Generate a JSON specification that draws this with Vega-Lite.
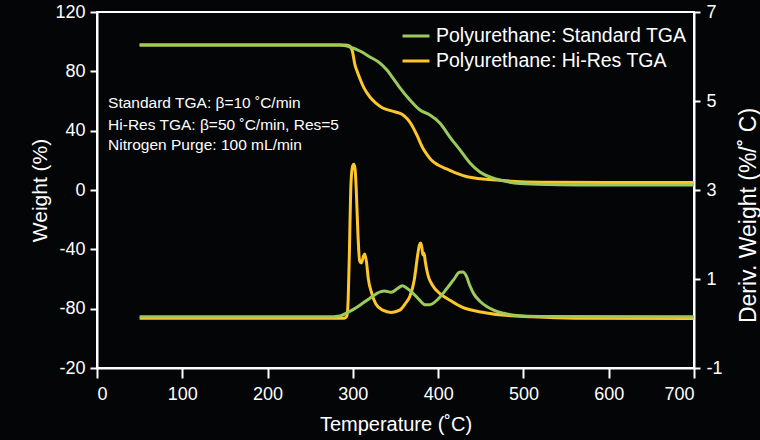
{
  "$schema": "https://vega.github.io/schema/vega-lite/v6.json",
  "width": 597,
  "height": 356,
  "autosize": {"type": "none"},
  "padding": {"left": 97, "top": 12, "right": 66, "bottom": 72},
  "background": "#040507",
  "config": {
    "view": {"stroke": "#ffffff", "strokeWidth": 2},
    "font": "Liberation Sans",
    "axis": {
      "domainColor": "#ffffff", "domainWidth": 2, "tickColor": "#ffffff", "tickWidth": 2,
      "labelColor": "#ffffff", "titleColor": "#ffffff", "grid": false,
      "labelFont": "Liberation Sans", "titleFont": "Liberation Sans",
      "titleFontWeight": "normal", "labelFontSize": 18, "titleFontSize": 20
    },
    "legend": {
      "labelColor": "#ffffff", "labelFont": "Liberation Sans", "labelFontSize": 19.5, "labelLimit": 400,
      "symbolType": "stroke", "symbolStrokeWidth": 3, "symbolSize": 729,
      "padding": 0, "rowPadding": 0, "labelOffset": 5
    }
  },
  "datasets": {
    "weight": [
      {"s": "HiRes", "T": 50, "W": 97.8}, {"s": "HiRes", "T": 200, "W": 97.8}, {"s": "HiRes", "T": 290, "W": 97.7},
      {"s": "HiRes", "T": 296, "W": 97.2}, {"s": "HiRes", "T": 298, "W": 95.7}, {"s": "HiRes", "T": 299.5, "W": 93.5},
      {"s": "HiRes", "T": 301, "W": 89.0}, {"s": "HiRes", "T": 302, "W": 85.6}, {"s": "HiRes", "T": 305, "W": 80.0},
      {"s": "HiRes", "T": 308, "W": 75.5}, {"s": "HiRes", "T": 313, "W": 68.8}, {"s": "HiRes", "T": 320, "W": 62.7},
      {"s": "HiRes", "T": 327, "W": 58.5}, {"s": "HiRes", "T": 335, "W": 55.3}, {"s": "HiRes", "T": 343, "W": 53.7},
      {"s": "HiRes", "T": 350, "W": 52.6}, {"s": "HiRes", "T": 358, "W": 50.9}, {"s": "HiRes", "T": 364, "W": 47.8},
      {"s": "HiRes", "T": 369, "W": 43.8}, {"s": "HiRes", "T": 375, "W": 37.1}, {"s": "HiRes", "T": 382, "W": 28.3},
      {"s": "HiRes", "T": 387, "W": 23.8}, {"s": "HiRes", "T": 392, "W": 20.2}, {"s": "HiRes", "T": 400, "W": 16.8},
      {"s": "HiRes", "T": 410, "W": 14.2}, {"s": "HiRes", "T": 422, "W": 11.2}, {"s": "HiRes", "T": 434, "W": 8.9},
      {"s": "HiRes", "T": 450, "W": 7.6}, {"s": "HiRes", "T": 469, "W": 6.7}, {"s": "HiRes", "T": 496, "W": 5.6},
      {"s": "HiRes", "T": 530, "W": 5.2}, {"s": "HiRes", "T": 600, "W": 5.0}, {"s": "HiRes", "T": 700, "W": 5.0},
      {"s": "Std", "T": 50, "W": 97.8}, {"s": "Std", "T": 200, "W": 97.8}, {"s": "Std", "T": 285, "W": 97.7},
      {"s": "Std", "T": 296.6, "W": 96.4}, {"s": "Std", "T": 308.3, "W": 93.7}, {"s": "Std", "T": 320, "W": 89.7},
      {"s": "Std", "T": 331.8, "W": 85.6}, {"s": "Std", "T": 340, "W": 80.9}, {"s": "Std", "T": 347, "W": 75.5},
      {"s": "Std", "T": 355.2, "W": 68.8}, {"s": "Std", "T": 366.9, "W": 60.7}, {"s": "Std", "T": 378.7, "W": 53.9},
      {"s": "Std", "T": 390.4, "W": 50.6}, {"s": "Std", "T": 402, "W": 45.2}, {"s": "Std", "T": 413.8, "W": 35.7},
      {"s": "Std", "T": 425.6, "W": 27.0}, {"s": "Std", "T": 437.3, "W": 18.2}, {"s": "Std", "T": 449, "W": 12.1},
      {"s": "Std", "T": 464, "W": 8.1}, {"s": "Std", "T": 472.4, "W": 6.7}, {"s": "Std", "T": 495.9, "W": 4.4},
      {"s": "Std", "T": 530, "W": 3.7}, {"s": "Std", "T": 580, "W": 3.4}, {"s": "Std", "T": 700, "W": 3.3}
    ],
    "deriv": [
      {"s": "HiRes", "T": 50, "D": 0.12}, {"s": "HiRes", "T": 290, "D": 0.12}, {"s": "HiRes", "T": 293, "D": 0.17},
      {"s": "HiRes", "T": 294.5, "D": 0.53}, {"s": "HiRes", "T": 296, "D": 1.65}, {"s": "HiRes", "T": 297.5, "D": 3.0},
      {"s": "HiRes", "T": 299.5, "D": 3.52}, {"s": "HiRes", "T": 301, "D": 3.58}, {"s": "HiRes", "T": 302.5, "D": 3.49},
      {"s": "HiRes", "T": 304, "D": 3.0}, {"s": "HiRes", "T": 306, "D": 1.99}, {"s": "HiRes", "T": 308, "D": 1.4},
      {"s": "HiRes", "T": 310, "D": 1.36}, {"s": "HiRes", "T": 312.5, "D": 1.52}, {"s": "HiRes", "T": 314, "D": 1.56},
      {"s": "HiRes", "T": 316, "D": 1.38}, {"s": "HiRes", "T": 318, "D": 1.02}, {"s": "HiRes", "T": 322, "D": 0.69},
      {"s": "HiRes", "T": 327, "D": 0.44}, {"s": "HiRes", "T": 335, "D": 0.3}, {"s": "HiRes", "T": 345, "D": 0.25},
      {"s": "HiRes", "T": 355, "D": 0.3}, {"s": "HiRes", "T": 362, "D": 0.46}, {"s": "HiRes", "T": 367, "D": 0.62},
      {"s": "HiRes", "T": 372, "D": 0.98}, {"s": "HiRes", "T": 376, "D": 1.54}, {"s": "HiRes", "T": 378, "D": 1.76},
      {"s": "HiRes", "T": 379.5, "D": 1.81}, {"s": "HiRes", "T": 381, "D": 1.7}, {"s": "HiRes", "T": 382, "D": 1.54},
      {"s": "HiRes", "T": 383.5, "D": 1.58}, {"s": "HiRes", "T": 385, "D": 1.38}, {"s": "HiRes", "T": 388, "D": 1.09},
      {"s": "HiRes", "T": 393, "D": 0.87}, {"s": "HiRes", "T": 403, "D": 0.66}, {"s": "HiRes", "T": 415, "D": 0.51},
      {"s": "HiRes", "T": 428, "D": 0.37}, {"s": "HiRes", "T": 450, "D": 0.26}, {"s": "HiRes", "T": 475, "D": 0.19},
      {"s": "HiRes", "T": 510, "D": 0.15}, {"s": "HiRes", "T": 560, "D": 0.12}, {"s": "HiRes", "T": 700, "D": 0.11},
      {"s": "Std", "T": 50, "D": 0.15}, {"s": "Std", "T": 270, "D": 0.15}, {"s": "Std", "T": 285, "D": 0.17},
      {"s": "Std", "T": 293, "D": 0.24}, {"s": "Std", "T": 302, "D": 0.33}, {"s": "Std", "T": 309, "D": 0.42},
      {"s": "Std", "T": 320, "D": 0.57}, {"s": "Std", "T": 332, "D": 0.71}, {"s": "Std", "T": 337, "D": 0.73},
      {"s": "Std", "T": 345, "D": 0.7}, {"s": "Std", "T": 352, "D": 0.78}, {"s": "Std", "T": 358, "D": 0.85},
      {"s": "Std", "T": 363, "D": 0.8}, {"s": "Std", "T": 370, "D": 0.69}, {"s": "Std", "T": 378, "D": 0.53},
      {"s": "Std", "T": 385, "D": 0.42}, {"s": "Std", "T": 390, "D": 0.42}, {"s": "Std", "T": 400, "D": 0.55},
      {"s": "Std", "T": 410, "D": 0.78}, {"s": "Std", "T": 418, "D": 0.98}, {"s": "Std", "T": 425, "D": 1.15},
      {"s": "Std", "T": 429, "D": 1.16}, {"s": "Std", "T": 433, "D": 1.07}, {"s": "Std", "T": 437, "D": 0.86},
      {"s": "Std", "T": 442, "D": 0.66}, {"s": "Std", "T": 449, "D": 0.5}, {"s": "Std", "T": 457, "D": 0.38},
      {"s": "Std", "T": 465, "D": 0.3}, {"s": "Std", "T": 477, "D": 0.23}, {"s": "Std", "T": 492, "D": 0.18},
      {"s": "Std", "T": 520, "D": 0.16}, {"s": "Std", "T": 700, "D": 0.15}
    ],
    "notes": [
      {"label": "Standard TGA: β=10 ˚C/min", "T": 13, "W": 55.3},
      {"label": "Hi-Res TGA: β=50 ˚C/min, Res=5", "T": 13, "W": 40.4},
      {"label": "Nitrogen Purge: 100 mL/min", "T": 13, "W": 27.0}
    ]
  },
  "encoding": {
    "x": {
      "field": "T", "type": "quantitative",
      "scale": {"domain": [0, 700], "nice": false},
      "axis": {
        "values": [0, 100, 200, 300, 400, 500, 600, 700], "title": "Temperature (˚C)",
        "tickSize": 10, "labelPadding": 7, "titleBaseline": "middle", "titleY": 56
      }
    }
  },
  "layer": [
    {
      "layer": [
        {
          "data": {"name": "weight"},
          "mark": {"type": "line", "strokeWidth": 3, "interpolate": "monotone"},
          "encoding": {
            "y": {
              "field": "W", "type": "quantitative",
              "scale": {"domain": [-120, 120], "nice": false},
              "axis": {
                "orient": "left", "values": [-120, -80, -40, 0, 40, 80, 120], "title": "Weight (%)",
                "labelExpr": "datum.value == -120 ? '-20' : '' + datum.value",
                "tickSize": 7, "labelPadding": 5, "titleBaseline": "middle", "titleX": -57, "titleY": 178,
                "titleFontSize": 21
              }
            },
            "color": {
              "field": "s", "type": "nominal",
              "scale": {"domain": ["Std", "HiRes"], "range": ["#9BCB5B", "#FDC62A"]},
              "legend": {
                "title": null, "orient": "none", "legendX": 304, "legendY": 9,
                "labelExpr": "datum.label == 'Std' ? 'Polyurethane: Standard TGA' : 'Polyurethane: Hi-Res TGA'"
              }
            }
          }
        },
        {
          "data": {"name": "notes"},
          "mark": {"type": "text", "align": "left", "baseline": "alphabetic", "fontSize": 15.5, "color": "#ffffff", "font": "Liberation Sans"},
          "encoding": {
            "y": {"field": "W", "type": "quantitative"},
            "text": {"field": "label"}
          }
        }
      ]
    },
    {
      "data": {"name": "deriv"},
      "mark": {"type": "line", "strokeWidth": 3, "interpolate": "monotone"},
      "encoding": {
        "y": {
          "field": "D", "type": "quantitative",
          "scale": {"domain": [-1, 7], "nice": false},
          "axis": {
            "orient": "right", "values": [-1, 1, 3, 5, 7], "title": "Deriv. Weight (%/˚ C)",
            "labelExpr": "'' + datum.value",
            "tickSize": 6, "labelPadding": 6, "titleAngle": 270, "titleBaseline": "middle",
            "titleX": 54, "titleY": 203, "titleFontSize": 23
          }
        },
        "color": {"field": "s", "type": "nominal"}
      }
    }
  ],
  "resolve": {"scale": {"y": "independent"}}
}
